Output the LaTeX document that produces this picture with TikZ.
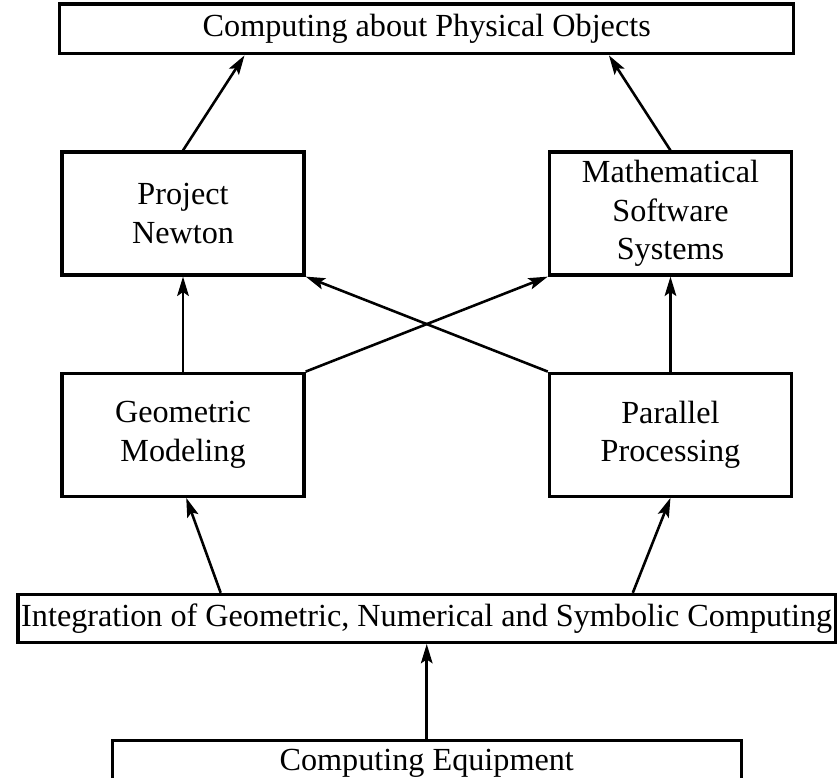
\documentclass[tikz,border=0pt]{standalone}
\usepackage{fontspec}
\setmainfont{Liberation Serif}
\usetikzlibrary{arrows.meta,positioning,calc}
\tikzset{>={Stealth[length=6pt,width=3.6pt,inset=1.2pt]}}

\begin{document}
\begin{tikzpicture}[
    block/.style={draw, line width=1pt, minimum width=75.2pt, minimum height=38.2pt, align=center, inner sep=2pt},
    banner/.style={draw, line width=1pt, minimum height=15.5pt, inner xsep=1pt, inner ysep=1pt},
    every node/.style={font=\fontsize{10}{12}\selectfont},
    link/.style={->, line width=0.8pt},
    node distance=29.5pt and 75.2pt
  ]
    \useasboundingbox (0,0) rectangle (260.27pt,-241.33pt);
    \node[block] (newton) at (56.84pt,-66.31pt) {Project\\Newton};
    \node[block, right=of newton] (mss) {Mathematical\\Software\\Systems};
    \node[block, below=of newton] (geo) {Geometric\\Modeling};
    \node[block, below=of mss] (par) {Parallel\\Processing};
    \coordinate (topmid) at ($(newton.north)!0.5!(mss.north)$);
    \coordinate (botmid) at ($(geo.south)!0.5!(par.south)$);
    \node[banner, minimum width=228pt, above=of topmid] (phys) {Computing about Physical Objects};
    \node[banner, minimum height=14.9pt, below=of botmid] (integ) {Integration of Geometric, Numerical and Symbolic Computing};
    \node[banner, minimum width=195.4pt, minimum height=14.4pt, below=of integ] (equip) {Computing Equipment};
    \draw[link] (newton.north) -- ([xshift=-56.6pt]phys.south);
    \draw[link] (mss.north) -- ([xshift=56.6pt]phys.south);
    \draw[link] (geo.north) -- (newton.south);
    \draw[link] (par.north) -- (mss.south);
    \draw[link] (geo.north east) -- (mss.south west);
    \draw[link] (par.north west) -- (newton.south east);
    \draw[link] ([xshift=-64pt]integ.north) -- ([xshift=1pt]geo.south);
    \draw[link] ([xshift=64pt]integ.north) -- (par.south);
    \draw[link] (equip.north) -- (integ.south);
  \end{tikzpicture}
\end{document}
